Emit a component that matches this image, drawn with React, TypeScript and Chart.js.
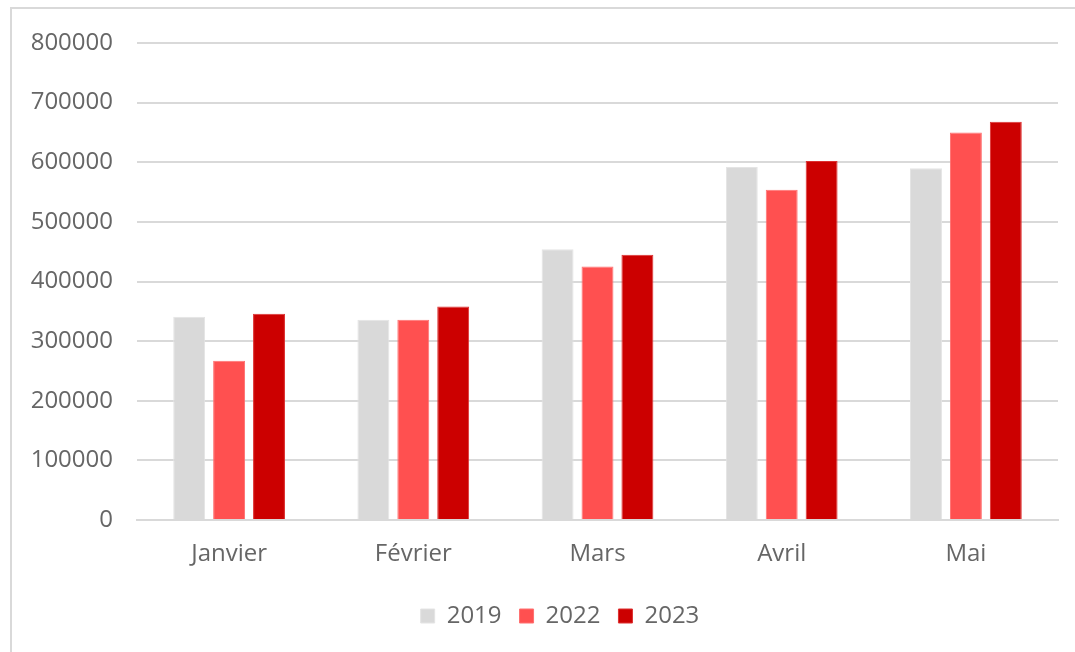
import React, { useEffect, useRef } from "react";
import { Chart, registerables } from "chart.js";

Chart.register(...registerables);

const categories = ["Janvier", "Février", "Mars", "Avril", "Mai"];
const series2019 = [341000, 336000, 454000, 592000, 590000];
const series2022 = [267000, 336000, 425000, 554000, 650000];
const series2023 = [346000, 358000, 445000, 602000, 668000];
const seriesLabels = ["2019", "2022", "2023"];

const FONT = "'Open Sans', 'Noto Sans', sans-serif";
const TEXT = "#666666";

const shiftLegend = {
  id: "shiftLegend",
  afterLayout(chart: any) {
    if (chart.legend) {
      chart.legend.left += 31;
      chart.legend.right += 31;
    }
  },
};

export default function App() {
  const ref = useRef<HTMLCanvasElement | null>(null);

  useEffect(() => {
    if (!ref.current) return;
    const chart = new Chart(ref.current, {
      type: "bar",
      data: {
        labels: categories,
        datasets: [
          { label: seriesLabels[0], data: series2019, backgroundColor: "#d9d9d9", borderColor: "#e4e4e4", borderWidth: 1 },
          { label: seriesLabels[1], data: series2022, backgroundColor: "#ff5050", borderColor: "#ff7070", borderWidth: 1 },
          { label: seriesLabels[2], data: series2023, backgroundColor: "#cc0000", borderColor: "#dd3030", borderWidth: 1 },
        ],
      },
      options: {
        responsive: false,
        animation: false,
        devicePixelRatio: 1,
        layout: { padding: { top: 43, right: 17, left: 0, bottom: 14 } },
        datasets: { bar: { categoryPercentage: 0.65, barPercentage: 0.8 } },
        scales: {
          x: {
            grid: { display: false, drawTicks: false },
            border: { display: true, color: "#d9d9d9", width: 2 },
            ticks: { color: TEXT, font: { family: FONT, size: 24 }, padding: 20 },
            afterFit: (s: any) => { s.height = 66; },
          },
          y: {
            min: 0,
            max: 800000,
            ticks: {
              stepSize: 100000,
              color: TEXT,
              font: { family: FONT, size: 24 },
              padding: 24,
              callback: (v: any) => String(v),
            },
            grid: { color: "#d9d9d9", lineWidth: 2, drawTicks: false },
            border: { display: false },
            afterFit: (s: any) => { s.width = 137; },
          },
        },
        plugins: {
          legend: {
            position: "bottom",
            labels: { color: TEXT, font: { family: FONT, size: 24 }, boxWidth: 14, boxHeight: 14, padding: 18 },
          },
          tooltip: { enabled: false },
        },
      },
      plugins: [shiftLegend],
    });
    return () => chart.destroy();
  }, []);

  return (
    <div style={{ position: "absolute", left: 0, top: 0, width: 1075, height: 652, background: "#fff" }}>
      <div style={{ position: "absolute", left: 10, top: 7, width: 1075, height: 660, border: "2px solid #d9d9d9", boxSizing: "border-box" }} />
      <canvas ref={ref} width={1075} height={652} style={{ position: "absolute", left: 0, top: 0 }} />
    </div>
  );
}
